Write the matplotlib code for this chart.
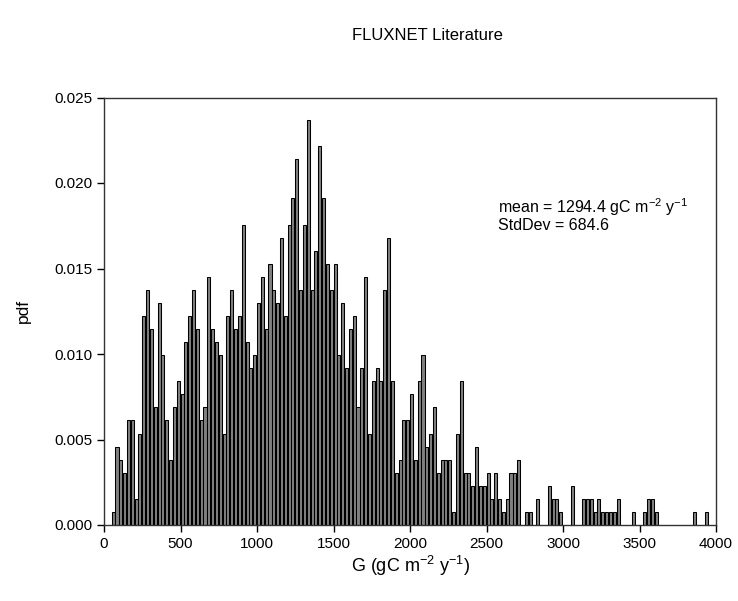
import matplotlib
matplotlib.use("Agg")
import matplotlib.pyplot as plt
import numpy as np

plt.rcParams['font.family'] = ['Liberation Sans', 'DejaVu Sans']
plt.rcParams['mathtext.fontset'] = 'custom'
plt.rcParams['mathtext.rm'] = 'Liberation Sans'
plt.rcParams['mathtext.it'] = 'Liberation Sans:italic'

# histogram of G, 25 gC m-2 y-1 bins from 0 to 4000
bin_width = 25
bin_left = np.arange(0, 4000, bin_width)
# number of sites per bin
counts = [
    0, 0, 1, 6, 5, 4, 8, 8, 2, 7, 16, 18, 15, 9, 17, 13, 8, 5, 9, 11,
    10, 14, 16, 18, 15, 8, 9, 19, 15, 14, 13, 7, 16, 18, 15, 16, 23, 14, 12, 13,
    17, 19, 15, 20, 18, 17, 22, 16, 23, 25, 28, 18, 23, 31, 18, 21, 29, 25, 20, 18,
    20, 13, 17, 12, 15, 16, 9, 12, 19, 7, 11, 12, 11, 18, 22, 11, 4, 5, 8, 8,
    10, 5, 11, 13, 6, 7, 9, 4, 5, 5, 5, 1, 7, 11, 4, 4, 3, 6, 3, 3,
    4, 2, 4, 2, 1, 2, 4, 4, 5, 0, 1, 1, 0, 2, 0, 0, 3, 2, 2, 1,
    0, 0, 3, 0, 0, 2, 2, 2, 1, 2, 1, 1, 1, 1, 2, 0, 0, 0, 1, 0,
    0, 1, 2, 2, 1, 0, 0, 0, 0, 0, 0, 0, 0, 0, 1, 0, 0, 1, 0, 0,
]
n_total = 1309
pdf = np.array(counts) / n_total

mean_txt = "1294.4"
std_txt = "684.6"

fig = plt.figure(figsize=(7.38, 6.01), dpi=100)
ax = fig.add_axes([104/738, 1-525/601, 612/738, 427.5/601])

mask = pdf > 0
ax.bar(bin_left[mask], pdf[mask], width=bin_width*0.8, align='edge',
       facecolor='#808080', edgecolor='black', linewidth=0.75)

ax.set_xlim(0, 4000)
ax.set_ylim(0, 0.025)
ax.set_xticks(np.arange(0, 4001, 500))
ax.set_yticks(np.arange(0, 0.0251, 0.005))
ax.yaxis.set_major_formatter(matplotlib.ticker.FormatStrFormatter('%.3f'))
ax.tick_params(direction='out', length=5, width=1, labelsize=11, colors='black')
for s in ax.spines.values():
    s.set_color('#333333')
    s.set_linewidth(1)

ax.set_xlabel(r'G (gC m$^{-2}$ y$^{-1}$)', fontsize=13, labelpad=2)
ax.set_ylabel('pdf', fontsize=12.5, labelpad=17)
fig.text(427/738, 1-35/601, 'FLUXNET Literature', ha='center', va='center', fontsize=12)

ax.text(0.644, 0.683, 'mean = ' + mean_txt + r' gC m$^{-2}$ y$^{-1}$' + '\nStdDev = ' + std_txt,
        transform=ax.transAxes, fontsize=11.5, va='bottom', ha='left', linespacing=1.0)

plt.savefig('out.png', dpi=100)
